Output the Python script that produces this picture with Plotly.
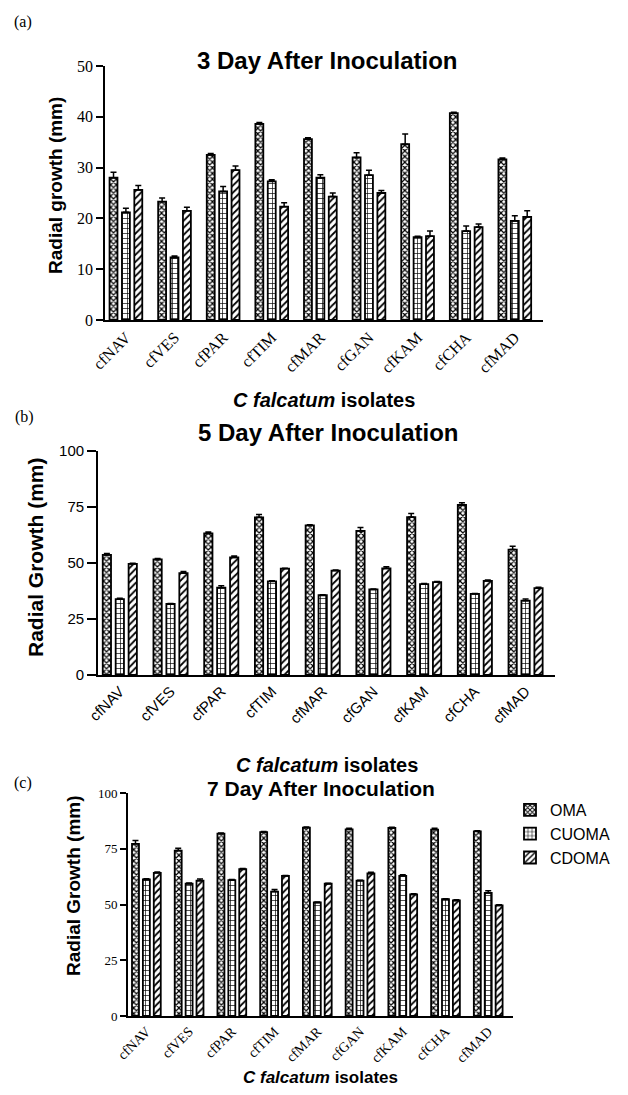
import plotly.graph_objects as go

W, H = 628, 1095
OFF = 8  # default page body margin of the html page
FW, FH = W - 2 * OFF, H - 2 * OFF

isolates = ["cfNAV", "cfVES", "cfPAR", "cfTIM", "cfMAR", "cfGAN", "cfKAM", "cfCHA", "cfMAD"]
series_names = ["OMA", "CUOMA", "CDOMA"]

# Panel (a) 3 days
a_oma = [28.0, 23.3, 32.5, 38.6, 35.6, 32.0, 34.6, 40.7, 31.6]
a_oma_err = [1.1, 0.7, 0.3, 0.3, 0.3, 0.9, 2.0, 0.2, 0.3]
a_cuoma = [21.2, 12.3, 25.3, 27.3, 28.0, 28.5, 16.3, 17.5, 19.5]
a_cuoma_err = [0.8, 0.3, 1.0, 0.3, 0.6, 1.0, 0.2, 1.0, 1.0]
a_cdoma = [25.6, 21.5, 29.5, 22.3, 24.3, 25.0, 16.5, 18.3, 20.3]
a_cdoma_err = [0.9, 0.7, 0.8, 0.8, 0.7, 0.5, 1.0, 0.6, 1.2]

# Panel (b) 5 days
b_oma = [53.6, 51.6, 63.2, 70.4, 66.8, 64.3, 70.5, 75.9, 56.0]
b_oma_err = [0.6, 0.4, 0.6, 1.2, 0.3, 1.5, 1.6, 1.0, 1.5]
b_cuoma = [33.9, 31.7, 39.0, 41.8, 35.6, 38.2, 40.6, 36.2, 33.2]
b_cuoma_err = [0.4, 0.2, 0.8, 0.3, 0.2, 0.2, 0.2, 0.2, 0.7]
b_cdoma = [49.6, 45.5, 52.5, 47.5, 46.6, 47.6, 41.5, 42.0, 38.8]
b_cdoma_err = [0.3, 0.7, 0.6, 0.2, 0.3, 0.7, 0.2, 0.4, 0.4]

# Panel (c) 7 days
c_oma = [77.2, 74.2, 81.8, 82.5, 84.5, 83.7, 84.3, 83.6, 82.8]
c_oma_err = [1.5, 1.0, 0.3, 0.2, 0.3, 0.5, 0.3, 0.6, 0.3]
c_cuoma = [61.2, 59.3, 60.9, 55.8, 50.9, 60.7, 62.8, 52.4, 55.2]
c_cuoma_err = [0.3, 0.3, 0.3, 0.9, 0.2, 0.2, 0.5, 0.2, 1.0]
c_cdoma = [64.2, 60.7, 65.8, 62.8, 59.3, 63.9, 54.5, 51.8, 49.6]
c_cdoma_err = [0.4, 0.7, 0.3, 0.2, 0.2, 0.6, 0.3, 0.3, 0.3]

a_ticks = [0, 10, 20, 30, 40, 50]
bc_ticks = [0, 25, 50, 75, 100]

SERIF = "Liberation Serif, Times New Roman, serif"
SANS = "Liberation Sans, Arial, sans-serif"

patterns = {
    "OMA": dict(shape="x", size=4, solidity=0.5, fgcolor="black", bgcolor="white", fillmode="replace"),
    "CUOMA": dict(shape="+", size=5, solidity=0.25, fgcolor="black", bgcolor="white", fillmode="replace"),
    "CDOMA": dict(shape="/", size=5, solidity=0.35, fgcolor="black", bgcolor="white", fillmode="replace"),
}

def px_x(x):
    return (x - OFF) / FW

def px_y(y):
    return 1 - (y - OFF) / FH

fig = go.Figure()

panels = [
    ("x", "y", [a_oma, a_cuoma, a_cdoma], [a_oma_err, a_cuoma_err, a_cdoma_err], False),
    ("x2", "y2", [b_oma, b_cuoma, b_cdoma], [b_oma_err, b_cuoma_err, b_cdoma_err], False),
    ("x3", "y3", [c_oma, c_cuoma, c_cdoma], [c_oma_err, c_cuoma_err, c_cdoma_err], True),
]

for xa, ya, vals, errs, show in panels:
    for name, v, e in zip(series_names, vals, errs):
        fig.add_trace(go.Bar(
            x=isolates, y=v, name=name, xaxis=xa, yaxis=ya,
            legendgroup=name, showlegend=show,
            marker=dict(color="white", pattern=patterns[name],
                        line=dict(color="black", width=1.8)),
            error_y=dict(type="data", symmetric=False, array=e,
                         arrayminus=[0] * len(e), color="black",
                         thickness=1.5, width=3),
        ))

xr = [-0.43, 8.58]

def xaxis(dom, font, size, anchor):
    return dict(domain=dom, anchor=anchor, range=xr, showgrid=False, zeroline=False,
                automargin=False,
                showline=True, linecolor="black", linewidth=1.7, ticks="",
                tickangle=-45, tickfont=dict(family=font, size=size, color="black"))

def yaxis(dom, rng, tickvals, font, size, anchor, ticklen):
    return dict(domain=dom, anchor=anchor, range=rng, tickvals=tickvals, showgrid=False,
                automargin=False,
                zeroline=False, showline=True, linecolor="black", linewidth=1.7,
                ticks="outside", ticklen=ticklen, tickwidth=1.5, tickcolor="black",
                tickfont=dict(family=font, size=size, color="black"))

fig.update_layout(
    template="none",
    width=FW, height=FH,
    margin=dict(l=0, r=0, t=0, b=0, pad=0, autoexpand=False),
    paper_bgcolor="white", plot_bgcolor="white",
    barmode="group", bargap=0.235, bargroupgap=0.36,
    showlegend=True,
    legend=dict(x=px_x(510), y=px_y(793), xanchor="left", yanchor="top",
                font=dict(family=SANS, size=16, color="black"),
                bgcolor="rgba(0,0,0,0)", tracegroupgap=0),
    xaxis=xaxis([px_x(105), px_x(543)], SERIF, 16, "y"),
    yaxis=yaxis([px_y(320), px_y(66)], [0, 50], a_ticks, SERIF, 16, "x", 7),
    xaxis2=xaxis([px_x(98), px_x(555)], SANS, 15, "y2"),
    yaxis2=yaxis([px_y(675), px_y(451)], [0, 100], bc_ticks, SANS, 15, "x2", 9),
    xaxis3=xaxis([px_x(128), px_x(513)], SERIF, 14, "y3"),
    yaxis3=yaxis([px_y(1016), px_y(793)], [0, 100], bc_ticks, SERIF, 13, "x3", 6),
)

ann = []
def text(x, y, s, size, family=SANS, angle=0):
    ann.append(dict(x=px_x(x), y=px_y(y), xref="paper", yref="paper", text=s,
                    showarrow=False, textangle=angle, xanchor="center", yanchor="middle",
                    font=dict(family=family, size=size, color="black")))

# panel letters
text(23, 22, "(a)", 16, SERIF)
text(24, 417, "(b)", 16, SERIF)
text(23, 783, "(c)", 16, SERIF)
# titles
text(327, 60, "<b>3 Day After Inoculation</b>", 24)
text(328, 432, "<b>5 Day After Inoculation</b>", 24)
text(321, 788, "<b>7 Day After Inoculation</b>", 21)
# x titles
text(324, 400, "<b><i>C falcatum</i> isolates</b>", 20)
text(327, 765, "<b><i>C falcatum</i> isolates</b>", 20)
text(320, 1077, "<b><i>C falcatum</i> isolates</b>", 17)
# y titles
text(55, 186, "<b>Radial growth (mm)</b>", 19, angle=-90)
text(35, 557, "<b>Radial Growth (mm)</b>", 21, angle=-90)
text(73, 886, "<b>Radial Growth (mm)</b>", 19, angle=-90)

fig.update_layout(annotations=ann)

fig.write_html("out.html")
